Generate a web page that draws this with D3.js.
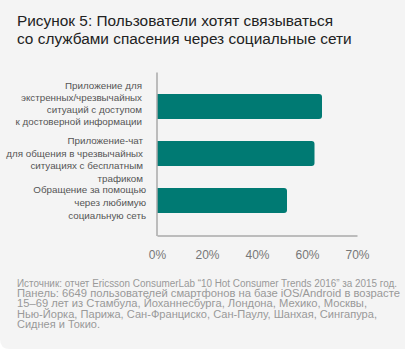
<!DOCTYPE html>
<html>
<head>
<meta charset="utf-8">
<script src="https://cdn.jsdelivr.net/npm/d3@7"></script>
<style>
  body { margin: 0; background: #fff; }
  svg { display: block; font-family: 'Liberation Sans', Arial, sans-serif; }
</style>
</head>
<body>
<svg id="chart" width="405" height="353"></svg>
<script>
const titleLines = [
  'Рисунок 5: Пользователи хотят связываться',
  'со службами спасения через социальные сети'
];

const categories = [
  ['Приложение для', 'экстренных/чрезвычайных', 'ситуаций с доступом', 'к достоверной информации'],
  ['Приложение-чат', 'для общения в чрезвычайных', 'ситуациях с бесплатным', 'трафиком'],
  ['Обращение за помощью', 'через любимую', 'социальную сеть']
];

const values = [66, 63, 52];

const tickValues = [0, 20, 40, 60, 80];
const tickLabels = ['0%', '20%', '40%', '60%', '70%'];

const noteLines = [
  'Источник: отчет Ericsson ConsumerLab “10 Hot Consumer Trends 2016” за 2015 год.',
  'Панель: 6649 пользователей смартфонов на базе iOS/Android в возрасте',
  '15–69 лет из Стамбула, Йоханнесбурга, Лондона, Мехико, Москвы,',
  'Нью-Йорка, Парижа, Сан-Франциско, Сан-Паулу, Шанхая, Сингапура,',
  'Сиднея и Токио.'
];

// layout tweaks (not data)
const labelShift = [-3, 6, 2];
const labelRight = [142, 143, 146];
const labelLine = [12.2, 12.4, 13.4];
const noteWidths = [380, 383, 350, 360, 83];

const svg = d3.select('#chart');

// panel background, rounded bottom-left corner
svg.append('path')
  .attr('d', 'M0,0H405V349H10Q0,349 0,339Z')
  .attr('fill', '#f4f4f4');

const title = svg.append('text')
  .attr('x', 17)
  .attr('y', 26)
  .attr('fill', '#222')
  .style('font-size', '15.4px');
title.selectAll('tspan')
  .data(titleLines)
  .join('tspan')
  .attr('x', 17)
  .attr('dy', (d, i) => (i ? 18 : 0))
  .text(d => d);

const x = d3.scaleLinear().domain([0, 80]).range([157, 357]);
const y = d3.scaleBand()
  .domain(d3.range(categories.length))
  .range([83, 224])
  .paddingInner(0.47)
  .paddingOuter(0.235);

// bars with rounded right end
const r = 3;
svg.append('g')
  .selectAll('path')
  .data(values)
  .join('path')
  .attr('fill', '#007a73')
  .attr('d', (d, i) => {
    const x0 = x(0), x1 = x(d), y0 = y(i), h = y.bandwidth();
    return `M${x0},${y0}H${x1 - r}Q${x1},${y0} ${x1},${y0 + r}` +
      `V${y0 + h - r}Q${x1},${y0 + h} ${x1 - r},${y0 + h}H${x0}Z`;
  });

// axes
const axisX = d3.axisBottom(x)
  .tickValues(tickValues)
  .tickSize(0)
  .tickPadding(15)
  .tickFormat((d, i) => tickLabels[i]);

const gx = svg.append('g')
  .attr('transform', 'translate(0,235.5)')
  .call(axisX);
gx.select('.domain').attr('stroke', '#aaa').attr('stroke-width', 1.5);
gx.selectAll('text')
  .attr('fill', '#777')
  .style('font-size', '12px')
  .style('font-family', "'Liberation Sans', Arial, sans-serif");

svg.append('line')
  .attr('x1', x(0)).attr('x2', x(0))
  .attr('y1', 72.5).attr('y2', 236)
  .attr('stroke', '#aaa')
  .attr('stroke-width', 1.5);

// category labels
svg.append('g')
  .selectAll('text')
  .data(categories)
  .join('text')
  .attr('text-anchor', 'end')
  .attr('fill', '#555')
  .style('font-size', '9.8px')
  .each(function (lines, i) {
    const lh = labelLine[i];
    const cy = y(i) + y.bandwidth() / 2 + labelShift[i];
    const top = cy - (lines.length - 1) * lh / 2 + 3.5;
    d3.select(this).selectAll('tspan')
      .data(lines)
      .join('tspan')
      .attr('x', labelRight[i])
      .attr('y', (d, j) => top + j * lh)
      .text(d => d);
  });

// source note
svg.append('g')
  .selectAll('text')
  .data(noteLines)
  .join('text')
  .attr('x', 17)
  .attr('y', (d, i) => 286.5 + i * 10.4)
  .attr('fill', '#999')
  .attr('textLength', (d, i) => noteWidths[i])
  .attr('lengthAdjust', 'spacingAndGlyphs')
  .style('font-size', '10px')
  .text(d => d);
</script>
</body>
</html>
